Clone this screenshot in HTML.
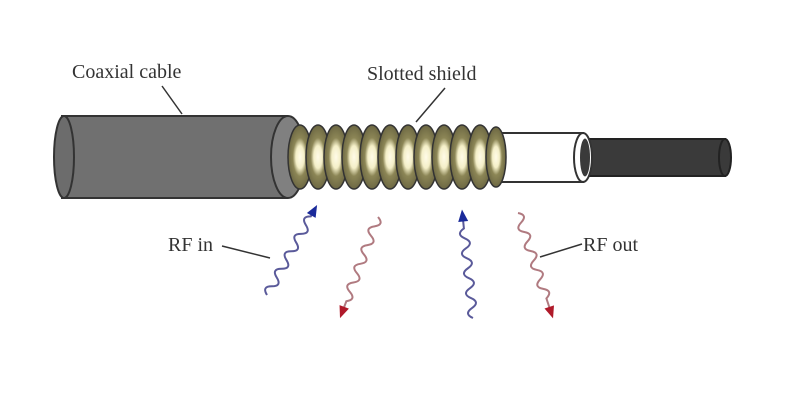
<!DOCTYPE html>
<html><head><meta charset="utf-8"><style>
html,body{margin:0;padding:0;background:#fff;}
svg{display:block;}
text{font-family:"Liberation Serif",serif;fill:#333;}
</style></head><body>
<svg width="800" height="400" viewBox="0 0 800 400" xmlns="http://www.w3.org/2000/svg">
<defs>
<radialGradient id="ring" cx="0.5" cy="0.5" r="0.5">
<stop offset="0" stop-color="#fffbe8"/><stop offset="0.35" stop-color="#f4efc8"/><stop offset="0.6" stop-color="#8c8656"/><stop offset="1" stop-color="#6d6843"/>
</radialGradient>
</defs>
<rect x="580" y="139" width="145" height="37" fill="#3a3a3a" stroke="#222" stroke-width="2"/>
<ellipse cx="725" cy="157.5" rx="6" ry="18.5" fill="#3a3a3a" stroke="#222" stroke-width="2"/>
<rect x="495" y="133" width="88" height="49" fill="#fff" stroke="#333" stroke-width="2"/>
<ellipse cx="583" cy="157.5" rx="9" ry="24.5" fill="#fff" stroke="#333" stroke-width="2"/>
<ellipse cx="585" cy="157.5" rx="5" ry="19" fill="#3a3a3a"/>
<rect x="62" y="116" width="225" height="82" fill="#707070" stroke="#333" stroke-width="2"/>
<ellipse cx="64" cy="157" rx="10" ry="41" fill="#6c6c6c" stroke="#333" stroke-width="2"/>
<ellipse cx="288" cy="157" rx="17" ry="41" fill="#808080" stroke="#333" stroke-width="2"/>
<g stroke="#333" stroke-width="1.5" fill="url(#ring)">
<ellipse cx="300" cy="157" rx="12" ry="32"/>
<ellipse cx="318" cy="157" rx="12" ry="32"/>
<ellipse cx="336" cy="157" rx="12" ry="32"/>
<ellipse cx="354" cy="157" rx="12" ry="32"/>
<ellipse cx="372" cy="157" rx="12" ry="32"/>
<ellipse cx="390" cy="157" rx="12" ry="32"/>
<ellipse cx="408" cy="157" rx="12" ry="32"/>
<ellipse cx="426" cy="157" rx="12" ry="32"/>
<ellipse cx="444" cy="157" rx="12" ry="32"/>
<ellipse cx="462" cy="157" rx="12" ry="32"/>
<ellipse cx="480" cy="157" rx="12" ry="32"/>
<ellipse cx="496" cy="157" rx="10" ry="30"/>
</g>
<text x="72" y="78" font-size="20">Coaxial cable</text>
<line x1="162" y1="86" x2="182" y2="114" stroke="#333" stroke-width="1.5"/>
<text x="367" y="80" font-size="20">Slotted shield</text>
<line x1="445" y1="88" x2="416" y2="122" stroke="#333" stroke-width="1.5"/>
<text x="168" y="251" font-size="20">RF in</text>
<line x1="222" y1="246" x2="270" y2="258" stroke="#333" stroke-width="1.5"/>
<text x="583" y="251" font-size="20">RF out</text>
<line x1="582" y1="244" x2="540" y2="257" stroke="#333" stroke-width="1.5"/>
<g fill="none" stroke-width="2">
<g transform="translate(267,295) rotate(-60.9)">
<path d="M0 0 q5 -9 10 0 t10 0 t10 0 t10 0 t10 0 t10 0 t10 0 t10 0 t10 0 l3 0" stroke="#5a5a9a"/>
<polygon points="103,0 91,-5 91,5" fill="#1a2a9a" stroke="none"/>
</g>
<g transform="translate(378,217) rotate(110.6)">
<path d="M0 0 q5 -9 10 0 t10 0 t10 0 t10 0 t10 0 t10 0 t10 0 t10 0 t10 0 l8 0" stroke="#b07a80"/>
<polygon points="108,0 96,-5 96,5" fill="#b01a2a" stroke="none"/>
</g>
<g transform="translate(473,318) rotate(-95.8)">
<path d="M0 0 q5 -9 10 0 t10 0 t10 0 t10 0 t10 0 t10 0 t10 0 t10 0 t10 0 l9 0" stroke="#5a5a9a"/>
<polygon points="109,0 97,-5 97,5" fill="#1a2a9a" stroke="none"/>
</g>
<g transform="translate(518,213) rotate(71.6)">
<path d="M0 0 q5 -9 10 0 t10 0 t10 0 t10 0 t10 0 t10 0 t10 0 t10 0 t10 0 l10 0" stroke="#b07a80"/>
<polygon points="111,0 99,-5 99,5" fill="#b01a2a" stroke="none"/>
</g>
</g>
</svg>
</body></html>
